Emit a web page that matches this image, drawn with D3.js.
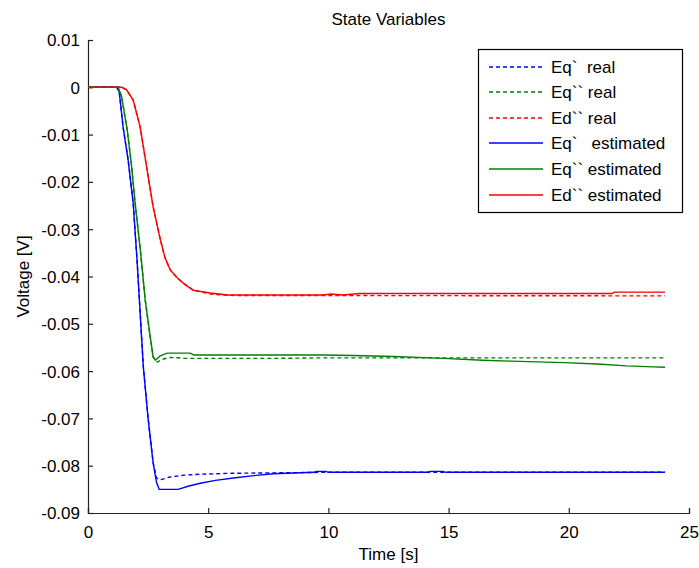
<!DOCTYPE html>
<html>
<head>
<meta charset="utf-8">
<script src="https://cdn.jsdelivr.net/npm/d3@7"></script>
<style>
  html, body { margin: 0; padding: 0; background: #fff; }
  svg text { font-family: "Liberation Sans", Arial, Helvetica, sans-serif; fill: #000; }
</style>
</head>
<body>
<svg id="chart" width="699" height="568"></svg>
<script>
// ---- data (time [s], voltage [V]) ----
const xTicks = [0, 5, 10, 15, 20, 25];
const yTicks = [0.01, 0, -0.01, -0.02, -0.03, -0.04, -0.05, -0.06, -0.07, -0.08, -0.09];

const eqPrimeReal = [[0,0],[1.2,0],[1.3,-0.001],[1.46,-0.0084],[1.67,-0.0154],[1.88,-0.0245],[2.04,-0.0365],[2.3,-0.059],[2.5,-0.07],[2.71,-0.0794],[2.85,-0.0826],[3.0,-0.083],[3.4,-0.0824],[4.0,-0.082],[4.67,-0.0818],[6,-0.0816],[8,-0.0815],[10,-0.0814],[24,-0.0814]];
const eqDPrimeReal = [[0,0],[1.25,0],[1.4,-0.002],[1.63,-0.009],[1.8,-0.016],[1.96,-0.0245],[2.17,-0.034],[2.38,-0.045],[2.59,-0.0528],[2.71,-0.057],[2.88,-0.0581],[3.1,-0.0575],[3.42,-0.0571],[4,-0.0573],[8,-0.0573],[9.6,-0.0572],[24,-0.0572]];
const edDPrimeReal = [[0,0],[1.4,0],[1.6,-0.0005],[1.88,-0.0027],[2.17,-0.0084],[2.46,-0.0175],[2.71,-0.0253],[3.0,-0.032],[3.2,-0.036],[3.42,-0.0386],[3.7,-0.0402],[3.96,-0.0414],[4.38,-0.0429],[5.09,-0.0437],[5.8,-0.044],[24,-0.0441]];
const eqPrimeEst = [[0,0],[1.2,0],[1.3,-0.001],[1.46,-0.0084],[1.67,-0.0154],[1.88,-0.0245],[2.04,-0.0365],[2.3,-0.059],[2.5,-0.07],[2.71,-0.0794],[2.85,-0.0835],[2.96,-0.085],[3.75,-0.085],[4.2,-0.0843],[4.67,-0.0837],[5.3,-0.0831],[6.05,-0.0826],[6.9,-0.0821],[7.7,-0.0817],[8.85,-0.0815],[9.4,-0.0814],[9.5,-0.0812],[9.9,-0.0812],[10,-0.0814],[14.1,-0.0814],[14.25,-0.0812],[14.75,-0.0812],[14.9,-0.0814],[24,-0.0814]];
const eqDPrimeEst = [[0,0],[1.25,0],[1.4,-0.002],[1.63,-0.009],[1.8,-0.016],[1.96,-0.0245],[2.17,-0.034],[2.38,-0.045],[2.59,-0.0528],[2.71,-0.057],[2.8,-0.0577],[3.0,-0.0568],[3.3,-0.0562],[4.26,-0.0562],[4.4,-0.0566],[9.8,-0.0566],[11,-0.0567],[12.7,-0.0569],[14.8,-0.0573],[16.4,-0.0577],[17.6,-0.0579],[19.8,-0.0582],[21.2,-0.0585],[22.4,-0.0589],[23.5,-0.0591],[24,-0.0592]];
const edDPrimeEst = [[0,0],[1.4,0],[1.6,-0.0005],[1.88,-0.0027],[2.17,-0.0084],[2.46,-0.0175],[2.71,-0.0253],[3.0,-0.032],[3.2,-0.036],[3.42,-0.0386],[3.7,-0.0402],[3.96,-0.0414],[4.38,-0.0429],[5.09,-0.0435],[5.8,-0.0439],[9.8,-0.0439],[10.1,-0.0437],[10.6,-0.0439],[11.3,-0.0436],[21.8,-0.0436],[21.9,-0.0433],[24,-0.0433]];

const seriesNames = ["Eq`  real", "Eq`` real", "Ed`` real", "Eq`   estimated", "Eq`` estimated", "Ed`` estimated"];
const seriesData = [eqPrimeReal, eqDPrimeReal, edDPrimeReal, eqPrimeEst, eqDPrimeEst, edDPrimeEst];
const seriesColors = ["#0000ff", "#008000", "#ff0000", "#0000ff", "#008000", "#ff0000"];
const seriesDashed = [true, true, true, false, false, false];

// ---- layout ----
const svg = d3.select("#chart");
const mLeft = 88, mRight = 689, mTop = 40, mBottom = 513;
const x = d3.scaleLinear().domain([0, 25]).range([mLeft, mRight]);
const y = d3.scaleLinear().domain([-0.09, 0.01]).range([mBottom, mTop]);
const fs = 17;

// title
svg.append("text").attr("x", (mLeft + mRight) / 2).attr("y", 25)
  .attr("text-anchor", "middle").style("font-size", fs + "px").text("State Variables");

// axes
const xAxis = svg.append("g").attr("transform", `translate(0,${mBottom})`)
  .call(d3.axisBottom(x).tickValues(xTicks).tickSize(-5).tickPadding(10).tickFormat(d3.format("d")));
const yAxis = svg.append("g").attr("transform", `translate(${mLeft},0)`)
  .call(d3.axisLeft(y).tickValues(yTicks).tickSize(-5).tickPadding(8).tickFormat(d => d === 0 ? "0" : d3.format(".2f")(d).replace("\u2212", "-")));
[xAxis, yAxis].forEach(g => {
  g.select(".domain").attr("stroke", "#222").attr("stroke-width", 1.2);
  g.selectAll(".tick line").attr("stroke", "#222").attr("stroke-width", 1.2);
  g.selectAll(".tick text").style("font-size", fs + "px").style("font-family", "'Liberation Sans', Arial, sans-serif").attr("fill", "#000");
});
xAxis.selectAll(".tick text").attr("dy", "0.9em");
yAxis.selectAll(".tick text").attr("dy", "0.35em");

// axis labels
svg.append("text").attr("x", (mLeft + mRight) / 2).attr("y", 560)
  .attr("text-anchor", "middle").style("font-size", fs + "px").text("Time [s]");
svg.append("text").attr("transform", `translate(29,${(mTop + mBottom) / 2}) rotate(-90)`)
  .attr("text-anchor", "middle").style("font-size", fs + "px").text("Voltage [V]");

// lines
const line = d3.line().x(d => x(d[0])).y(d => y(d[1]));
const plot = svg.append("g");
seriesData.forEach((data, i) => {
  plot.append("path").datum(data)
    .attr("fill", "none")
    .attr("stroke", seriesColors[i])
    .attr("stroke-width", 1.4)
    .attr("stroke-dasharray", seriesDashed[i] ? "4,3" : null)
    .attr("d", line);
});

// legend
const lg = svg.append("g");
lg.append("rect").attr("x", 478.5).attr("y", 49.5).attr("width", 204).attr("height", 163)
  .attr("fill", "#fff").attr("stroke", "#000").attr("stroke-width", 1.2);
const rowY = [67, 92, 118, 143, 169, 195];
seriesNames.forEach((name, i) => {
  lg.append("line").attr("x1", 489).attr("x2", 543).attr("y1", rowY[i]).attr("y2", rowY[i])
    .attr("stroke", seriesColors[i]).attr("stroke-width", 1.4)
    .attr("stroke-dasharray", seriesDashed[i] ? "4,3" : null);
  lg.append("text").attr("x", 551).attr("y", rowY[i]).attr("dy", "0.36em")
    .style("font-size", fs + "px").style("white-space", "pre").attr("xml:space", "preserve").text(name);
});
</script>
</body>
</html>
